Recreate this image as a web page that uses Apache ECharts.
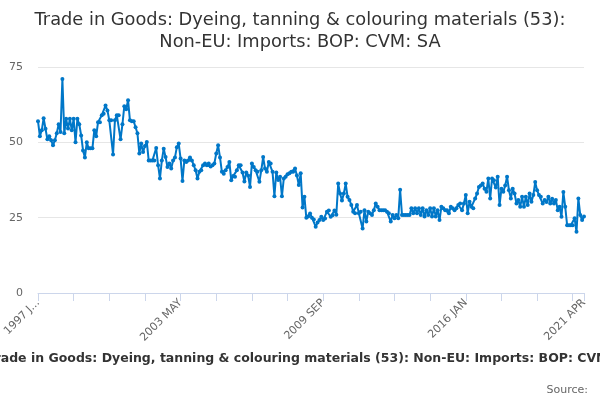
<!DOCTYPE html>
<html>
<head>
<meta charset="utf-8">
<script src="https://cdn.jsdelivr.net/npm/echarts@6/dist/echarts.min.js"></script>
<style>
  html, body { margin: 0; padding: 0; background: #fff; }
  #chart { width: 600px; height: 400px; }
</style>
</head>
<body>
<div id="chart"></div>
<script>
// monthly series, 1997 JAN .. 2021 APR
const titleText = 'Trade in Goods: Dyeing, tanning & colouring materials (53):\nNon-EU: Imports: BOP: CVM: SA'
const seriesName = 'Trade in Goods: Dyeing, tanning & colouring materials (53): Non-EU: Imports: BOP: CVM: SA'
const monthNames = ['JAN', 'FEB', 'MAR', 'APR', 'MAY', 'JUN', 'JUL', 'AUG', 'SEP', 'OCT', 'NOV', 'DEC']
const startYear = 1997
const monthCount = 292

const yTicks = [0, 25, 50, 75]
const labelIndexes = [0, 76, 152, 228, 291]

const values = [
  57, 52, 54, 58, 54.5, 51, 52, 50.7, 49, 50.7, 53, 56,          // 1997
  53.4, 71, 53, 57.8, 54.6, 57.8, 54, 57.8, 50, 57.8, 56, 52.3,  // 1998
  47.3, 45, 50, 48, 48, 48, 54, 52, 56.7, 56.7, 59, 59.5,        // 1999
  62.2, 60.6, 57.3, 57.3, 46, 57.3, 59, 59, 51, 56, 62, 61,      // 2000
  64, 57.3, 57, 57, 55, 53, 46.3, 49.6, 46.8, 48.8, 50.1, 44,    // 2001
  44, 44, 44, 48.1, 42.4, 38, 44, 47.9, 45.1, 41.8, 43, 41.3,    // 2002
  44, 45, 48.4, 49.6, 44.6, 37.2, 44, 43.5, 44, 45, 44, 42.4,    // 2003
  40.7, 38, 40.2, 40.7, 42.4, 43, 42.4, 43, 42, 42.4, 43, 46.3,  // 2004
  49, 45, 40.2, 39.6, 40.7, 41.8, 43.5, 37.4, 38.8, 38.6, 40.7, 42.4, // 2005
  42.4, 40, 37, 40, 39, 35.2, 43, 41.8, 40.7, 40.2, 36.9, 40.7,  // 2006
  45.1, 41.3, 40.2, 43.5, 43, 40.2, 32.1, 40, 37.5, 38.6, 32.1, 38, // 2007
  38.6, 39.4, 39.7, 40.2, 40.2, 41.3, 39, 35.8, 39.7, 28.4, 31.9, 25, // 2008
  25.4, 26.4, 25, 24.4, 22, 23.4, 24.2, 25.3, 24.2, 24.7, 27, 27.4, // 2009
  25.3, 25.8, 27.4, 26, 36.3, 33, 30.7, 33, 36.3, 31.9, 30.9, 29.2, // 2010
  27, 26.5, 29.2, 26.5, 27, 21.4, 27.5, 23.7, 27, 26.5, 25.9, 27.5, // 2011
  29.7, 28.6, 27.5, 27.5, 27.5, 27.5, 27, 26.5, 23.7, 25.9, 24.8, 25.9, // 2012
  24.8, 34.3, 25.9, 25.9, 25.9, 25.9, 25.9, 28.1, 26.5, 28.1, 26.5, 28.1, // 2013
  25.9, 28.1, 25.4, 27.5, 25.9, 28.1, 25.4, 28.1, 25.4, 27.5, 24.2, 28.6, // 2014
  28.1, 27.5, 27.5, 26.5, 28.6, 28.1, 27.5, 28.1, 29.2, 29.7, 27.5, 29.7, // 2015
  32.5, 26.5, 30.3, 28.6, 28.1, 31.4, 33, 35.2, 35.7, 36.3, 34.6, 33.6,   // 2016
  38, 31.4, 38, 37.4, 35, 38.6, 29.2, 34.6, 33.6, 35.7, 38.6, 34.1,       // 2017
  31.4, 34.6, 33, 29.7, 30.9, 28.6, 31.9, 28.6, 31.9, 29.2, 33, 30.3,     // 2018
  32.5, 36.8, 34.1, 32.5, 31.9, 29.7, 30.9, 30.2, 31.9, 29.7, 31.3, 29.7, // 2019
  30.9, 27.5, 28.6, 25.3, 33.5, 28.6, 22.5, 22.5, 22.5, 22.5, 24.8, 20.3, // 2020
  31.4, 25.9, 24.2, 25.4                                                   // 2021
]

const categories = []
for (let i = 0; i < monthCount; i++) {
  categories.push((startYear + Math.floor(i / 12)) + ' ' + monthNames[i % 12])
}

const chart = echarts.init(document.getElementById('chart'))

const option = {
  animation: false,
  backgroundColor: '#fff',
  title: {
    text: titleText,
    left: 'center',
    top: 4,
    textStyle: {
      fontFamily: 'DejaVu Sans',
      fontSize: 17.8,
      fontWeight: 'normal',
      color: '#333',
      lineHeight: 22
    }
  },
  grid: {
    left: 38,
    right: 16,
    top: 67,
    bottom: 107
  },
  xAxis: {
    type: 'category',
    data: categories,
    boundaryGap: false,
    axisLine: { lineStyle: { color: '#ccd6eb' } },
    axisTick: {
      length: 8,
      lineStyle: { color: '#ccd6eb' },
      interval: function (idx) { return idx % 19 === 0 || idx === monthCount - 1 }
    },
    axisLabel: {
      rotate: 45,
      color: '#666',
      fontFamily: 'DejaVu Sans',
      fontSize: 11,
      margin: 8,
      interval: function (idx) { return labelIndexes.indexOf(idx) >= 0 },
      formatter: function (val, idx) { return idx === 0 ? '1997 J...' : val }
    },
    splitLine: { show: false }
  },
  yAxis: {
    type: 'value',
    min: yTicks[0],
    max: yTicks[yTicks.length - 1],
    interval: 25,
    axisLine: { show: false },
    axisTick: { show: false },
    axisLabel: {
      color: '#666',
      fontFamily: 'DejaVu Sans',
      fontSize: 11,
      margin: 15
    },
    splitLine: {
      lineStyle: { color: '#e6e6e6' },
      showMinLine: false
    }
  },
  graphic: [
    {
      type: 'text',
      x: 312,
      y: 352,
      style: {
        text: seriesName,
        align: 'center',
        verticalAlign: 'top',
        fontFamily: 'DejaVu Sans',
        fontSize: 12.5,
        fontWeight: 'bold',
        fill: '#333'
      }
    },
    {
      type: 'text',
      right: 12,
      top: 385,
      style: {
        text: 'Source:',
        fontFamily: 'DejaVu Sans',
        fontSize: 11,
        fill: '#666'
      }
    }
  ],
  series: [{
    name: seriesName,
    type: 'line',
    data: values,
    symbol: 'circle',
    symbolSize: 4,
    showAllSymbol: true,
    lineStyle: { color: '#0077c8', width: 2 },
    itemStyle: { color: '#0077c8' }
  }]
}

chart.setOption(option)
</script>
</body>
</html>
